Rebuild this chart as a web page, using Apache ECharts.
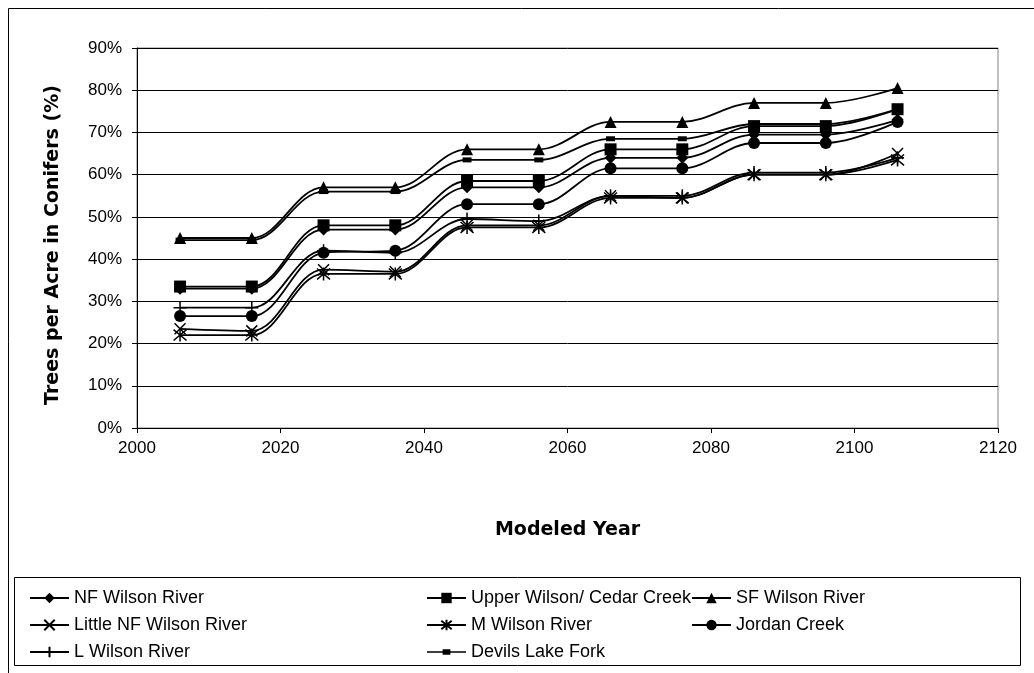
<!DOCTYPE html>
<html>
<head>
<meta charset="utf-8">
<script src="https://cdn.jsdelivr.net/npm/echarts@6/dist/echarts.min.js"></script>
<style>
html,body{margin:0;padding:0;background:#fff;}
#chart{width:1034px;height:673px;}
</style>
</head>
<body>
<div id="chart"></div>
<script>
const years = [2006, 2016, 2026, 2036, 2046, 2056, 2066, 2076, 2086, 2096, 2106];
const nfWilson      = [33.0, 33.0, 47.0, 47.0, 57.0, 57.0, 64.0, 64.0, 69.5, 69.5, 73.0];
const upperWilson   = [33.5, 33.5, 48.0, 48.0, 58.5, 58.5, 66.0, 66.0, 71.5, 71.5, 75.5];
const sfWilson      = [45.0, 45.0, 57.0, 57.0, 66.0, 66.0, 72.5, 72.5, 77.0, 77.0, 80.5];
const littleNF      = [23.5, 23.0, 37.5, 37.0, 48.0, 48.0, 55.0, 54.5, 60.0, 60.0, 65.0];
const mWilson       = [22.0, 22.0, 36.5, 36.5, 47.5, 47.5, 54.5, 54.5, 60.0, 60.0, 63.5];
const jordanCreek   = [26.5, 26.5, 41.5, 42.0, 53.0, 53.0, 61.5, 61.5, 67.5, 67.5, 72.5];
const lWilson       = [28.5, 28.5, 42.0, 41.5, 49.5, 49.0, 55.0, 55.0, 60.5, 60.5, 64.0];
const devilsLake    = [44.5, 44.5, 56.0, 56.0, 63.5, 63.5, 68.5, 68.5, 72.0, 72.0, 75.5];
const yTicks = [0, 10, 20, 30, 40, 50, 60, 70, 80, 90];
const xTicks = [2000, 2020, 2040, 2060, 2080, 2100, 2120];

const FONT = '"Liberation Sans", Arial, sans-serif';
const TITLE_FONT = '"DejaVu Sans", sans-serif';
const pathX = 'path://M0,0L10,10M10,0L0,10';
const pathPlus = 'path://M5,0L5,10M0,5L10,5';
const pathStar = 'path://M0,0L10,10M10,0L0,10M5,-1L5,11';
const devilsIcon = 'path://M0,2L40,2L40,3.6L0,3.6Z M16,0L24,0L24,5.6L16,5.6Z';

function pair(arr) { return years.map((y, i) => [y, arr[i]]); }

const seriesDefs = [
  {name: 'NF Wilson River', data: nfWilson, symbol: 'diamond', size: 12, stroke: false},
  {name: 'Upper Wilson/ Cedar Creek', data: upperWilson, symbol: 'rect', size: 12, stroke: false},
  {name: 'SF Wilson River', data: sfWilson, symbol: 'triangle', size: 12, stroke: false},
  {name: 'Little NF Wilson River', data: littleNF, symbol: pathX, size: 11, stroke: true},
  {name: 'M Wilson River', data: mWilson, symbol: pathStar, size: 13, stroke: true},
  {name: 'Jordan Creek', data: jordanCreek, symbol: 'circle', size: 12, stroke: false},
  {name: 'L Wilson River', data: lWilson, symbol: pathPlus, size: 13, stroke: true},
  {name: 'Devils Lake Fork', data: devilsLake, symbol: 'rect', size: [9, 5], stroke: false}
];

const series = seriesDefs.map(d => ({
  name: d.name,
  type: 'line',
  data: pair(d.data),
  smooth: 0.35,
  symbol: d.symbol,
  symbolSize: d.size,
  showAllSymbol: true,
  lineStyle: {color: '#000', width: 1.8},
  itemStyle: {color: '#000', borderColor: '#000', borderWidth: d.stroke ? 1.5 : 0},
  emphasis: {disabled: true},
  animation: false
}));

const legendCommon = {
  orient: 'vertical',
  top: 589,
  itemWidth: 39,
  itemHeight: 13,
  itemGap: 9,
  padding: 0,
  textStyle: {fontFamily: FONT, fontSize: 18, color: '#000'},
  selectedMode: false
};

const chart = echarts.init(document.getElementById('chart'), null, {renderer: 'canvas'});
chart.setOption({
  backgroundColor: '#fff',
  animation: false,
  textStyle: {fontFamily: FONT},
  graphic: [
    {type: 'rect', shape: {x: 8.5, y: 8.5, width: 1040, height: 680}, style: {fill: 'none', stroke: '#000', lineWidth: 1}, silent: true},
    {type: 'rect', shape: {x: 14.5, y: 577.5, width: 1006, height: 88}, style: {fill: 'none', stroke: '#000', lineWidth: 1}, silent: true}
  ],
  grid: {left: 137, right: 36, top: 48, bottom: 245, show: true, borderColor: '#808080', borderWidth: 1, containLabel: false},
  xAxis: {
    type: 'value', min: 2000, max: 2120, interval: 20,
    name: 'Modeled Year', nameLocation: 'middle', nameGap: 93,
    nameTextStyle: {fontFamily: TITLE_FONT, fontSize: 19, fontWeight: 'bold', color: '#000'},
    axisLine: {lineStyle: {color: '#000', width: 1}},
    axisTick: {show: true, length: 5, lineStyle: {color: '#000'}},
    axisLabel: {fontFamily: FONT, fontSize: 17, color: '#000', margin: 12,
      formatter: v => xTicks.includes(v) ? String(v) : ''},
    splitLine: {show: false}
  },
  yAxis: {
    type: 'value', min: 0, max: 90, interval: 10,
    name: 'Trees per Acre in Conifers (%)', nameLocation: 'middle', nameGap: 74,
    nameTextStyle: {fontFamily: TITLE_FONT, fontSize: 19, fontWeight: 'bold', color: '#000', padding: [0, 14, 0, 0]},
    axisLine: {show: true, lineStyle: {color: '#000', width: 1}},
    axisTick: {show: true, length: 5, lineStyle: {color: '#000'}},
    axisLabel: {fontFamily: FONT, fontSize: 17, color: '#000', margin: 15,
      formatter: v => yTicks.includes(v) ? v + '%' : ''},
    splitLine: {show: true, lineStyle: {color: '#000', width: 1}}
  },
  legend: [
    Object.assign({}, legendCommon, {left: 29, data: ['NF Wilson River', 'Little NF Wilson River', 'L Wilson River']}),
    Object.assign({}, legendCommon, {left: 426, data: ['Upper Wilson/ Cedar Creek', 'M Wilson River', {name: 'Devils Lake Fork', icon: devilsIcon}]}),
    Object.assign({}, legendCommon, {left: 691, data: ['SF Wilson River', 'Jordan Creek']})
  ],
  series: series
});
</script>
</body>
</html>
